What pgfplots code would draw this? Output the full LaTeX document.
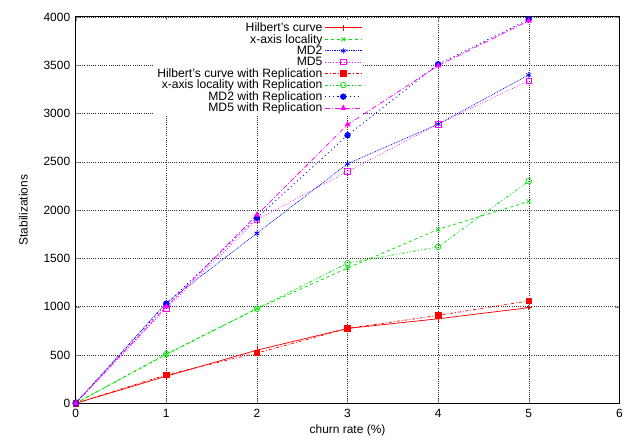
\documentclass[border=0pt]{standalone}
\usepackage{fontspec}
\setmainfont{Liberation Sans}
\usepackage{pgfplots}
\pgfplotsset{compat=1.18}
\usetikzlibrary{calc,plotmarks}
\definecolor{gRed}{HTML}{FF0000}
\definecolor{gGreen}{HTML}{00E000}
\definecolor{gBlue}{HTML}{0000FF}
\definecolor{gMag}{HTML}{FF00FF}

\begin{document}
\begin{tikzpicture}
\begin{axis}[
  name=ax,
  scale only axis,width=546pt,height=388pt,
  xmin=0,xmax=6,ymin=0,ymax=4000,
  xtick={0,...,6},ytick={0,500,...,4000},
  tick align=inside,major tick length=4pt,
  tick label style={font=\fontsize{12}{14}\selectfont},
  label style={font=\fontsize{12}{14}\selectfont},
  /pgf/number format/assume math mode=true,
  scaled y ticks=false,
  yticklabel style={/pgf/number format/1000 sep={},xshift=-2pt},
  xticklabel style={yshift=-2pt},
  xlabel={churn rate (\%)},ylabel={Stabilizations},
  xlabel style={yshift=-1pt},ylabel style={yshift=9pt},
  grid=major,grid style={black!80,dash pattern=on 0.6pt off 1.6pt,line width=0.45pt},
  axis line style={line width=1pt},
  legend plot pos=right,
  legend cell align=right,
  legend style={at={(0.528,0.992)},anchor=north east,draw=none,fill=white,
    font=\fontsize{12.2}{14}\selectfont,row sep=-2.7pt,inner sep=0.5pt},
  legend image code/.code={\draw[mark repeat=2,mark phase=2,#1] plot coordinates {(0cm,0cm) (0.65cm,0cm) (1.3cm,0cm)};},
  every axis plot/.append style={line width=0.75pt,mark size=2.8pt},
]
\addplot[gRed,solid,mark=+,mark options={solid}] coordinates {(0,0)(1,280)(2,550)(3,775)(4,875)(5,990)};
\addlegendentry{Hilbert's curve}
\addplot[gGreen,dashed,mark=x,mark options={solid}] coordinates {(0,0)(1,505)(2,980)(3,1400)(4,1800)(5,2090)};
\addlegendentry{x-axis locality}
\addplot[gBlue,densely dotted,mark=asterisk,mark options={solid}] coordinates {(0,0)(1,1040)(2,1760)(3,2480)(4,2890)(5,3400)};
\addlegendentry{MD2}
\addplot[gMag,dotted,mark=square,mark options={solid}] coordinates {(0,0)(1,985)(2,1900)(3,2400)(4,2890)(5,3340)};
\addlegendentry{MD5}
\addplot[gRed,dashdotted,mark=square*,mark options={solid}] coordinates {(0,0)(1,295)(2,520)(3,775)(4,910)(5,1060)};
\addlegendentry{Hilbert's curve with Replication}
\addplot[gGreen,dash pattern=on 3pt off 2pt on 1pt off 2pt on 1pt off 2pt,mark=o,mark options={solid}] coordinates {(0,0)(1,510)(2,980)(3,1450)(4,1620)(5,2300)};
\addlegendentry{x-axis locality with Replication}
\addplot[gBlue,dash pattern=on 1.2pt off 3pt,mark=*,mark options={solid}] coordinates {(0,0)(1,1030)(2,1920)(3,2775)(4,3510)(5,3975)};
\addlegendentry{MD2 with Replication}
\addplot[gMag,dash pattern=on 5pt off 2pt on 1pt off 2pt,mark=triangle*,mark options={solid}] coordinates {(0,0)(1,1000)(2,1950)(3,2885)(4,3495)(5,3960)};
\addlegendentry{MD5 with Replication}
\end{axis}
\path ($(ax.south west)+(-76pt,-40pt)$) rectangle ($(ax.north east)+(4pt,17pt)$);
\end{tikzpicture}
\end{document}
